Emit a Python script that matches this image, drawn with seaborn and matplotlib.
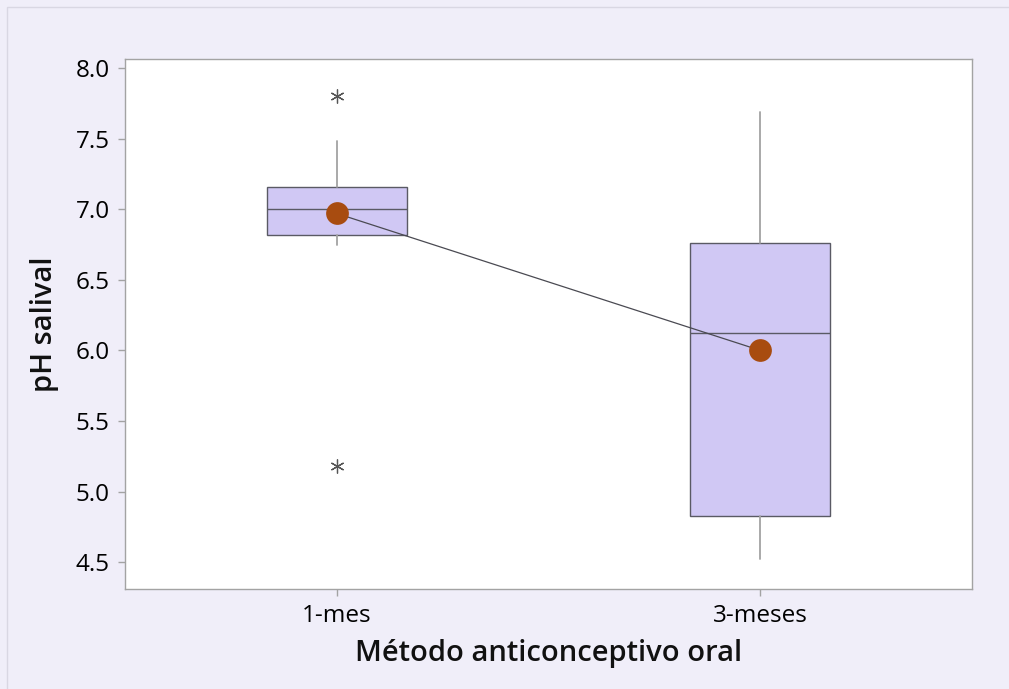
import matplotlib
matplotlib.use("Agg")
import matplotlib.pyplot as plt
import matplotlib.patches as mpatches
import seaborn as sns
import pandas as pd

# ---- data ----
categories = ["1-mes", "3-meses"]
q1 = [6.82, 4.83]
medians = [7.00, 6.12]
q3 = [7.16, 6.76]
whisker_low = [6.75, 4.52]
whisker_high = [7.48, 7.69]
outliers = [[7.80, 5.18], []]
means = [6.97, 6.00]
yticks = [4.5, 5.0, 5.5, 6.0, 6.5, 7.0, 7.5, 8.0]

sns.set_theme(style="white")
plt.rcParams["font.family"] = ["Open Sans", "DejaVu Sans"]

bg = "#F0EEF9"
fig = plt.figure(figsize=(10.09, 6.89), dpi=100, facecolor=bg)
ax = fig.add_axes([125 / 1009, 1 - 589 / 689, 847 / 1009, 530 / 689])
ax.set_facecolor("white")

# outer frame (only left/top visible in the reference)
fig.patches.append(mpatches.Rectangle((7 / 1009, -0.05), 1.1, 1 - 7 / 689 + 0.05,
                                      transform=fig.transFigure, fill=False,
                                      edgecolor="#D9D7E3", linewidth=1.0, zorder=0))

stats = []
for i, c in enumerate(categories):
    stats.append(dict(label=c, q1=q1[i], med=medians[i], q3=q3[i],
                      whislo=whisker_low[i], whishi=whisker_high[i],
                      fliers=outliers[i]))

ax.bxp(stats, positions=range(len(categories)), widths=0.33, patch_artist=True,
       showcaps=False, showfliers=True,
       boxprops=dict(facecolor="#D0C8F4", edgecolor="#5A5A64", linewidth=1.0),
       medianprops=dict(color="#5A5A64", linewidth=1.0),
       whiskerprops=dict(color="#A3A3A3", linewidth=1.3),
       flierprops=dict(marker=(6, 2, 0), markersize=10, markeredgecolor="#555555",
                       markeredgewidth=0.9, linestyle="none"))

df = pd.DataFrame({"cat": categories, "mean": means})
sns.lineplot(data=df, x=range(len(categories)), y="mean", ax=ax,
             color="#4A4A52", linewidth=0.9, zorder=3)
sns.scatterplot(data=df, x=range(len(categories)), y="mean", ax=ax,
                s=230, color="#A84C10", edgecolor="#A84C10", zorder=4)

ax.set_xlim(-0.5, 1.5)
ax.set_ylim(4.31, 8.064)
ax.set_yticks(yticks)
ax.set_yticklabels([f"{v:.1f}" for v in yticks])
ax.set_xticks(range(len(categories)))
ax.set_xticklabels(categories)

for s in ax.spines.values():
    s.set_color("#A3A3A3")
    s.set_linewidth(1.0)

ax.tick_params(axis="both", which="major", direction="out", length=5, width=1,
               color="#A3A3A3", labelsize=17.5, labelcolor="#000000", pad=6,
               left=True, bottom=True)
for lab in ax.get_xticklabels() + ax.get_yticklabels():
    lab.set_fontweight("medium")

ax.set_xlabel("Método anticonceptivo oral", fontsize=21, fontweight="semibold",
              color="#111111", labelpad=8)
ax.set_ylabel("pH salival", fontsize=21, fontweight="semibold",
              color="#111111", labelpad=12)

fig.savefig("out.png", dpi=100, facecolor=bg)
